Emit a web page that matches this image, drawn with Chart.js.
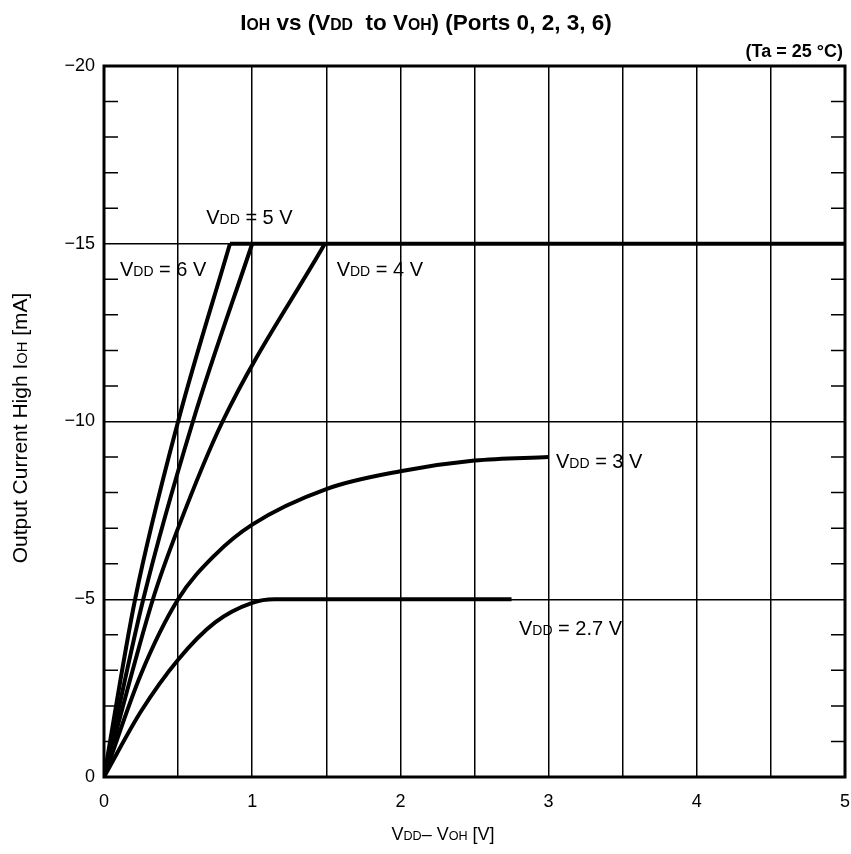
<!DOCTYPE html>
<html>
<head>
<meta charset="utf-8">
<script src="https://cdn.jsdelivr.net/npm/chart.js@4.4.0/dist/chart.umd.min.js"></script>
<style>
  body { margin: 0; background: #fff; }
  #wrap { width: 851px; height: 854px; position: relative; }
</style>
</head>
<body>
<div id="wrap"><canvas id="grafico"></canvas></div>
<script>
// Valores (V = VDD - VOH, I = IOH em mA)
const v6X = [0, 0.21, 0.5, 0.85];
const v6Y = [0, -5, -10, -15];
const v5X = [0, 0.265, 0.6, 1.0];
const v5Y = [0, -5, -10, -15];
const v4X = [0, 0.33, 0.5, 0.8, 1.49];
const v4Y = [0, -5, -7.0, -10, -15];
const v3X = [0, 0.25, 0.5, 0.75, 1.0, 1.5, 2.0, 2.5, 3.0];
const v3Y = [0, -2.9, -5.0, -6.25, -7.1, -8.1, -8.6, -8.9, -9.0];
const v27X = [0, 0.25, 0.5, 0.75, 1.0, 1.15, 2.75];
const v27Y = [0, -1.85, -3.3, -4.35, -4.9, -5.0, -5.0];
// limite de -15 mA (curvas de 4, 5 e 6 V)
const limX = [0.85, 5];
const limY = [-15, -15];

const xTicks = [0, 1, 2, 3, 4, 5];
const yTicks = [0, -5, -10, -15, -20];

// rótulos das curvas: [texto, x, y da linha de base]
const rotulos = [
  ['5 V', 0.69, -15.56],
  ['6 V', 0.108, -14.1],
  ['4 V', 1.57, -14.1],
  ['3 V', 3.05, -8.69],
  ['2.7 V', 2.8, -4.0]
];

const pts = (xs, ys) => xs.map((x, i) => ({ x: x, y: ys[i] }));
const FONT = '"Liberation Sans", Arial, sans-serif';

function serie(xs, ys, curva) {
  return {
    data: pts(xs, ys),
    showLine: true,
    borderColor: '#000',
    borderWidth: 4,
    pointRadius: 0,
    tension: curva ? 0.4 : 0,
    cubicInterpolationMode: curva ? 'monotone' : 'default',
    fill: false
  };
}

// texto com partes menores (VDD, IOH ...)
function textoRico(ctx, partes, x, y, tam, peso, alinhar) {
  let larg = 0;
  partes.forEach(p => {
    ctx.font = peso + ' ' + (p[1] ? tam * 0.7 : tam) + 'px ' + FONT;
    larg += ctx.measureText(p[0]).width;
  });
  let cx = alinhar === 'center' ? x - larg / 2 : (alinhar === 'right' ? x - larg : x);
  ctx.textBaseline = 'alphabetic';
  ctx.textAlign = 'left';
  partes.forEach(p => {
    ctx.font = peso + ' ' + (p[1] ? tam * 0.7 : tam) + 'px ' + FONT;
    ctx.fillText(p[0], cx, y);
    cx += ctx.measureText(p[0]).width;
  });
}

const molduraPlugin = {
  id: 'moldura',
  afterDraw(chart) {
    const ctx = chart.ctx;
    const a = chart.chartArea;
    const xs = chart.scales.x, ys = chart.scales.y;
    ctx.save();
    ctx.fillStyle = '#000';
    ctx.strokeStyle = '#000';
    // moldura
    ctx.lineWidth = 3;
    ctx.strokeRect(a.left, a.top, a.right - a.left, a.bottom - a.top);
    // marcas menores no eixo y
    ctx.lineWidth = 1.5;
    for (let v = -19; v < 0; v++) {
      if (v % 5 === 0) continue;
      const py = ys.getPixelForValue(v);
      ctx.beginPath();
      ctx.moveTo(a.left, py); ctx.lineTo(a.left + 14, py);
      ctx.moveTo(a.right - 14, py); ctx.lineTo(a.right, py);
      ctx.stroke();
    }
    // título
    textoRico(ctx, [['I'], ['OH', 1], [' vs (V'], ['DD', 1], ['  to V'], ['OH', 1], [') (Ports 0, 2, 3, 6)']],
      426, 30, 22.5, 'bold', 'center');
    textoRico(ctx, [['(Ta = 25 °C)']], a.right - 2, 57, 18, 'bold', 'right');
    // títulos dos eixos
    textoRico(ctx, [['V'], ['DD', 1], ['– V'], ['OH', 1], [' [V]']], 443, 840, 18, 'normal', 'center');
    ctx.save();
    ctx.translate(27, 428);
    ctx.rotate(-Math.PI / 2);
    textoRico(ctx, [['Output Current High I'], ['OH', 1], [' [mA]']], 0, 0, 21, 'normal', 'center');
    ctx.restore();
    // rótulos das curvas
    rotulos.forEach(r => {
      const px = xs.getPixelForValue(r[1]);
      const py = ys.getPixelForValue(r[2]);
      textoRico(ctx, [['V'], ['DD', 1], [' = ' + r[0]]], px, py, 20, 'normal', 'left');
    });
    ctx.restore();
  }
};

new Chart(document.getElementById('grafico'), {
  type: 'scatter',
  data: {
    datasets: [
      serie(v6X, v6Y, true),
      serie(v5X, v5Y, true),
      serie(v4X, v4Y, true),
      serie(v3X, v3Y, true),
      serie(v27X, v27Y, true),
      serie(limX, limY, false)
    ]
  },
  options: {
    responsive: true,
    maintainAspectRatio: false,
    animation: false,
    layout: { padding: { left: 0, right: 6, top: 66, bottom: 0 } },
    plugins: {
      legend: { display: false },
      tooltip: { enabled: false }
    },
    scales: {
      x: {
        type: 'linear',
        min: 0, max: 5,
        afterFit: s => { s.height = 77; s.paddingLeft = 0; s.paddingRight = 0; },
        border: { display: false },
        grid: { color: '#000', lineWidth: 1.5, drawTicks: false },
        ticks: {
          stepSize: 0.5,
          autoSkip: false,
          maxRotation: 0,
          padding: 14,
          color: '#000',
          font: { family: FONT, size: 18 },
          callback: v => xTicks.includes(v) ? String(v) : ''
        }
      },
      y: {
        type: 'linear',
        min: -20, max: 0,
        reverse: true,
        afterFit: s => { s.width = 104; s.paddingTop = 0; s.paddingBottom = 0; },
        border: { display: false },
        grid: {
          drawTicks: false,
          lineWidth: 1.5,
          color: c => (c.tick && c.tick.value % 5 === 0) ? '#000' : 'rgba(0,0,0,0)'
        },
        ticks: {
          stepSize: 1,
          autoSkip: false,
          padding: 9,
          color: '#000',
          font: { family: FONT, size: 18 },
          callback: v => yTicks.includes(v) ? (v < 0 ? '−' + Math.abs(v) : String(v)) : ''
        }
      }
    }
  },
  plugins: [molduraPlugin]
});
</script>
</body>
</html>
